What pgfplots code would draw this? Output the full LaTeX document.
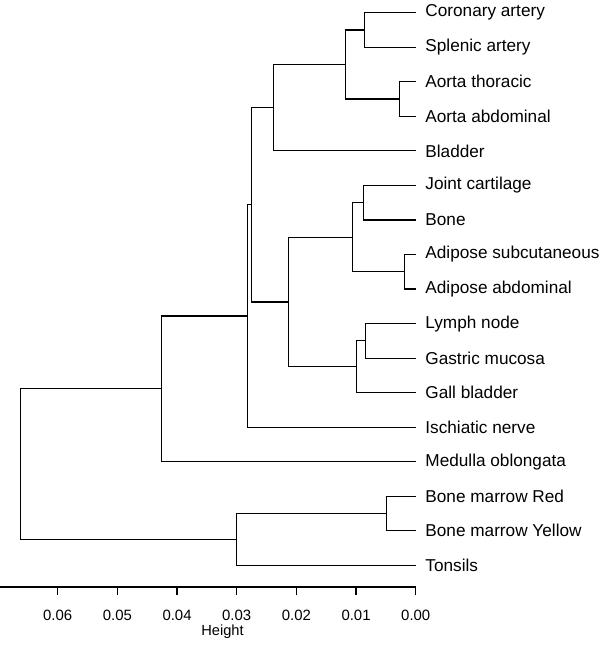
\documentclass[border=0pt]{standalone}
\usepackage{fontspec}
\setmainfont{Liberation Sans}
\usepackage{pgfplots}
\pgfplotsset{compat=1.18}
\begin{document}
\begin{tikzpicture}
\begin{axis}[
  scale only axis,
  width=311.8pt, height=440.25pt,
  x dir=reverse, y dir=reverse,
  xmin=0, xmax=0.06967, ymin=0.632, ymax=17.627,
  axis x line*=bottom, axis y line*=right,
  separate axis lines,
  y axis line style={draw=none},
  x axis line style={-, draw=black, line width=0.85pt},
  xtick={0,0.01,0.02,0.03,0.04,0.05,0.06},
  xticklabels={0.00,0.01,0.02,0.03,0.04,0.05,0.06},
  scaled x ticks=false,
  xtick align=outside,
  xtick style={black, line width=0.85pt},
  major tick length=6pt,
  ytick={1,...,17},
  yticklabels={Coronary artery,Splenic artery,Aorta thoracic,Aorta abdominal,Bladder,Joint cartilage,Bone,Adipose subcutaneous,Adipose abdominal,Lymph node,Gastric mucosa,Gall bladder,Ischiatic nerve,Medulla oblongata,Bone marrow Red,Bone marrow Yellow,Tonsils},
  ytick style={draw=none},
  yticklabel style={anchor=west, font=\fontsize{12.9}{15}\selectfont, xshift=3.75pt},
  xticklabel style={font=\fontsize{11.2}{13}\selectfont, yshift=-7.5pt},
  /pgf/number format/assume math mode=true,
  xlabel={Height},
  xlabel style={font=\fontsize{11}{13}\selectfont, yshift=3.75pt, xshift=11pt},
  clip=false,
]
\addplot[black, line width=0.85pt, mark=none] coordinates {(0,1)(0.00861,1)(0.00861,2)(0,2)};
\addplot[black, line width=0.85pt, mark=none] coordinates {(0,3)(0.00275,3)(0.00275,4)(0,4)};
\addplot[black, line width=0.85pt, mark=none] coordinates {(0.00861,1.5)(0.0118,1.5)(0.0118,3.5)(0.00275,3.5)};
\addplot[black, line width=0.85pt, mark=none] coordinates {(0.0118,2.5)(0.02386,2.5)(0.02386,5)(0,5)};
\addplot[black, line width=0.85pt, mark=none] coordinates {(0,6)(0.00871,6)(0.00871,7)(0,7)};
\addplot[black, line width=0.85pt, mark=none] coordinates {(0,8)(0.00191,8)(0.00191,9)(0,9)};
\addplot[black, line width=0.85pt, mark=none] coordinates {(0.00871,6.5)(0.01062,6.5)(0.01062,8.5)(0.00191,8.5)};
\addplot[black, line width=0.85pt, mark=none] coordinates {(0,10)(0.00844,10)(0.00844,11)(0,11)};
\addplot[black, line width=0.85pt, mark=none] coordinates {(0.00844,10.5)(0.00995,10.5)(0.00995,12)(0,12)};
\addplot[black, line width=0.85pt, mark=none] coordinates {(0.01062,7.5)(0.02135,7.5)(0.02135,11.25)(0.00995,11.25)};
\addplot[black, line width=0.85pt, mark=none] coordinates {(0.02386,3.75)(0.02748,3.75)(0.02748,9.375)(0.02135,9.375)};
\addplot[black, line width=0.85pt, mark=none] coordinates {(0.02748,6.5625)(0.02815,6.5625)(0.02815,13)(0,13)};
\addplot[black, line width=0.85pt, mark=none] coordinates {(0.02815,9.78125)(0.04263,9.78125)(0.04263,14)(0,14)};
\addplot[black, line width=0.85pt, mark=none] coordinates {(0,15)(0.00486,15)(0.00486,16)(0,16)};
\addplot[black, line width=0.85pt, mark=none] coordinates {(0.00486,15.5)(0.03006,15.5)(0.03006,17)(0,17)};
\addplot[black, line width=0.85pt, mark=none] coordinates {(0.04263,11.890625)(0.0662,11.890625)(0.0662,16.25)(0.03006,16.25)};
\end{axis}
\pgfresetboundingbox
\path[use as bounding box] (current axis.north west) rectangle ([xshift=450pt,yshift=-485.25pt]current axis.north west);
\end{tikzpicture}
\end{document}
